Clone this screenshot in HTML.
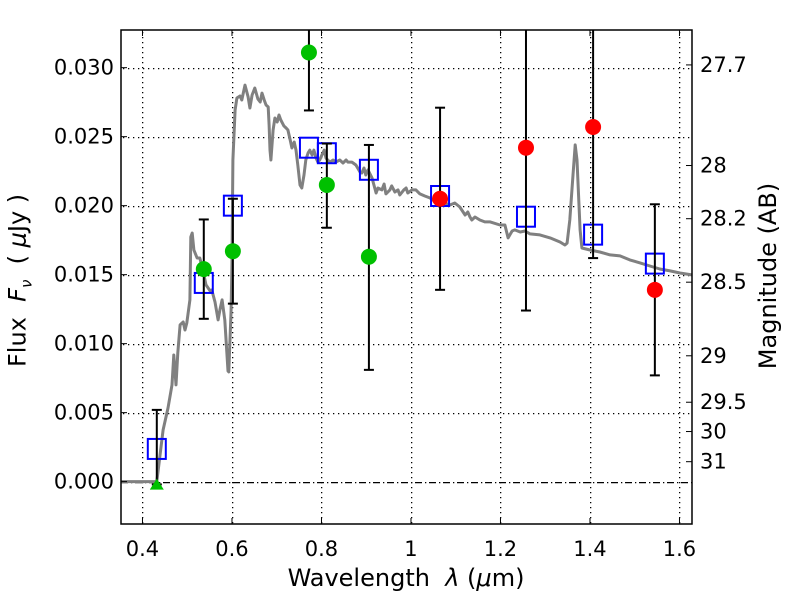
<!DOCTYPE html>
<html><head><meta charset="utf-8"><style>
body{margin:0;background:#fff;}
svg{display:block;font-family:"DejaVu Sans","Liberation Sans",sans-serif;}
</style></head><body>
<svg id="chart" width="800" height="600" viewBox="0 0 800 600" xmlns="http://www.w3.org/2000/svg"></svg>
<script>
const specWl=[0.352,0.417,0.432,0.446,0.457,0.466,0.470,0.475,0.479,0.484,0.491,0.495,0.499,0.506,0.508,0.511,0.515,0.522,0.528,0.535,0.542,0.551,0.555,0.562,0.569,0.573,0.578,0.584,0.591,0.593,0.598,0.600,0.602,0.607,0.611,0.618,0.622,0.629,0.636,0.640,0.645,0.651,0.658,0.663,0.667,0.672,0.676,0.681,0.683,0.685,0.687,0.692,0.696,0.701,0.705,0.709,0.716,0.721,0.725,0.730,0.734,0.739,0.743,0.747,0.752,0.756,0.761,0.765,0.770,0.774,0.779,0.783,0.788,0.792,0.796,0.801,0.806,0.810,0.814,0.819,0.826,0.832,0.841,0.848,0.855,0.859,0.868,0.877,0.886,0.890,0.895,0.899,0.904,0.913,0.922,0.926,0.935,0.940,0.944,0.953,0.957,0.964,0.971,0.975,0.984,0.989,0.993,1.002,1.011,1.020,1.031,1.042,1.049,1.065,1.076,1.087,1.098,1.109,1.121,1.127,1.132,1.136,1.143,1.154,1.165,1.177,1.199,1.210,1.217,1.226,1.232,1.244,1.255,1.266,1.288,1.311,1.333,1.344,1.349,1.355,1.362,1.367,1.371,1.378,1.382,1.400,1.422,1.445,1.467,1.489,1.512,1.534,1.556,1.579,1.601,1.628];
const specFlux=[0,0,0,0.00375,0.00534,0.00701,0.00918,0.00701,0.00933,0.01136,0.01157,0.01099,0.01150,0.01317,0.01773,0.01802,0.01679,0.01621,0.01621,0.01534,0.01426,0.01382,0.01389,0.01302,0.01172,0.01244,0.01317,0.01172,0.00802,0.00795,0.01244,0.01607,0.02331,0.02693,0.02780,0.02795,0.02766,0.02874,0.02788,0.02708,0.02802,0.02853,0.02773,0.02751,0.02816,0.02766,0.02730,0.02715,0.02585,0.02403,0.02331,0.02548,0.02635,0.02606,0.02657,0.02621,0.02578,0.02563,0.02548,0.02476,0.02418,0.02461,0.02403,0.02295,0.02150,0.02128,0.02222,0.02331,0.02382,0.02403,0.02367,0.02403,0.02345,0.02316,0.02331,0.02367,0.02403,0.02345,0.02331,0.02316,0.02331,0.02316,0.02331,0.02309,0.02331,0.02316,0.02316,0.02295,0.02244,0.02237,0.02273,0.02222,0.02259,0.02201,0.02092,0.02128,0.02114,0.02157,0.02085,0.02114,0.02143,0.02099,0.02114,0.02077,0.02114,0.02128,0.02092,0.02114,0.02114,0.02085,0.02070,0.02056,0.02041,0.02056,0.02019,0.02005,0.02019,0.01990,0.01932,0.01954,0.01918,0.01896,0.01918,0.01896,0.01882,0.01882,0.01860,0.01860,0.01766,0.01816,0.01824,0.01809,0.01816,0.01795,0.01788,0.01766,0.01737,0.01715,0.01729,0.01896,0.02222,0.02440,0.02331,0.01824,0.01693,0.01679,0.01664,0.01643,0.01636,0.01607,0.01585,0.01563,0.01541,0.01527,0.01512,0.01498];
const modelWl=[0.432,0.537,0.602,0.772,0.812,0.906,1.065,1.257,1.407,1.545];
const modelFlux=[0.00237,0.0144,0.0200,0.0242,0.0238,0.0226,0.0207,0.0192,0.0179,0.0158];
const obsWl=[0.537,0.602,0.772,0.812,0.906,1.065,1.257,1.407,1.545];
const obsFlux=[0.0154,0.0167,0.0311,0.0215,0.0163,0.0205,0.0242,0.0257,0.0139];
const obsColor=['green','green','green','green','green','red','red','red','red'];
const errWl=[0.432,0.537,0.602,0.772,0.812,0.906,1.065,1.257,1.407,1.545];
const errLo=[-0.0002,0.0118,0.0129,0.0269,0.0184,0.0081,0.0139,0.0124,0.0162,0.0077];
const errHi=[0.0052,0.0190,0.0205,0.040,0.0245,0.0244,0.0271,0.040,0.040,0.0201];
const limitWl=[0.432];
const limitFlux=[0];
const xTicks=[0.4,0.6,0.8,1.0,1.2,1.4,1.6];
const xTickLabels=['0.4','0.6','0.8','1','1.2','1.4','1.6'];
const yTicks=[0,0.005,0.010,0.015,0.020,0.025,0.030];
const yTickLabels=['0.000','0.005','0.010','0.015','0.020','0.025','0.030'];
const magTicks=[27.7,28,28.2,28.5,29,29.5,30,31];
const magLabels=['27.7','28','28.2','28.5','29','29.5','30','31'];

const L=121,R=692,T=30,B=524,X0=0.352,X1=1.628,Y0=-0.00307,Y1=0.03273;
const sx=v=>L+(v-X0)/(X1-X0)*(R-L);
const sy=v=>B-(v-Y0)/(Y1-Y0)*(B-T);
const svg=document.getElementById('chart');
const NS='http://www.w3.org/2000/svg';
function mk(tag,attrs,parent){const e=document.createElementNS(NS,tag);for(const k in attrs)e.setAttribute(k,attrs[k]);(parent||svg).appendChild(e);return e;}
const defs=mk('defs',{});
const cp=mk('clipPath',{id:'clip'},defs);mk('rect',{x:L,y:T,width:R-L,height:B-T},cp);
const plot=mk('g',{'clip-path':'url(#clip)'});



xTicks.forEach((t)=>{const x=Math.round(sx(t));let dd='';for(let y=T+2;y<B;y+=5)dd+=`M${x},${y}h1.3v1.3h-1.3z`;
const l=mk('path',{d:dd,fill:'#000'},plot);

});
yTicks.forEach((t)=>{const y=Math.round(sy(t));let dd='';
if(t===0){for(let x=L;x<R;x+=14)dd+=`M${x},${y}h7v1.3h-7zM${x+10},${y}h1.3v1.3h-1.3z`;}
else{for(let x=L+2;x<R;x+=5)dd+=`M${x},${y}h1.3v1.3h-1.3z`;}
const l=mk('path',{d:dd,fill:'#000'},plot);

});

let d='';specWl.forEach((w,i)=>{d+=(i?'L':'M')+sx(w).toFixed(1)+','+sy(specFlux[i]).toFixed(1);});
const sp=mk('path',{d:d,fill:'none',stroke:'#808080','stroke-width':3,'stroke-linejoin':'round'},plot);



modelWl.forEach((w,i)=>{const r=mk('rect',{x:sx(w)-9,y:sy(modelFlux[i])-10,width:18,height:20,fill:'none',stroke:'#0000ff','stroke-width':2},plot);

});

errWl.forEach((w,i)=>{const g=mk('g',{stroke:'#000','stroke-width':2},plot);


const x=sx(w);mk('line',{x1:x,x2:x,y1:sy(errLo[i]),y2:sy(errHi[i])},g);
mk('line',{x1:x-5,x2:x+5,y1:sy(errLo[i]),y2:sy(errLo[i])},g);
mk('line',{x1:x-5,x2:x+5,y1:sy(errHi[i]),y2:sy(errHi[i])},g);});

limitWl.forEach((w,i)=>{const x=sx(w),y=sy(limitFlux[i]);const p=mk('polygon',{points:`${x-7},${y+8} ${x+7},${y+8} ${x},${y-3}`,fill:'#00c000'},plot);

});

obsWl.forEach((w,i)=>{const c=mk('circle',{cx:sx(w),cy:sy(obsFlux[i]),r:8,fill:obsColor[i]==='green'?'#00c000':'#ff0000'},plot);

});

const fr=mk('rect',{x:L,y:T,width:R-L,height:B-T,fill:'none',stroke:'#000','stroke-width':1.5});



xTicks.forEach((t,i)=>{const x=sx(t);mk('line',{x1:x,x2:x,y1:B,y2:B-6,stroke:'#000'});mk('line',{x1:x,x2:x,y1:T,y2:T+6,stroke:'#000'});
const tx=mk('text',{x:x,y:556,'font-size':21,'text-anchor':'middle'});tx.textContent=xTickLabels[i];

});
yTicks.forEach((t,i)=>{const y=sy(t);mk('line',{x1:L,x2:L+6,y1:y,y2:y,stroke:'#000'});
const tx=mk('text',{x:114,y:y+7,'font-size':21,'text-anchor':'end'});tx.textContent=yTickLabels[i];

});
magTicks.forEach((m,i)=>{const y=sy(Math.pow(10,(23.9-m)/2.5));mk('line',{x1:R,x2:R-6,y1:y,y2:y,stroke:'#000'});
const tx=mk('text',{x:700,y:y+7,'font-size':21});tx.textContent=magLabels[i];

});
</script>
<div style="position:absolute;left:0;top:0;width:800px;height:600px;pointer-events:none;font-family:'DejaVu Sans','Liberation Sans',sans-serif;">
<div style="position:absolute;left:206px;top:564px;width:400px;text-align:center;font-size:24px;line-height:28px;">Wavelength&nbsp; <i>λ</i> (<i>μ</i>m)</div>
<div style="position:absolute;left:-178px;top:262px;width:400px;text-align:center;font-size:24px;line-height:28px;transform:rotate(-90deg);">Flux&nbsp; <i>F<sub style="font-size:15px">ν</sub></i> &nbsp;( <i>μ</i>Jy )</div>
<div style="position:absolute;left:568px;top:262px;width:400px;text-align:center;font-size:24px;line-height:28px;transform:rotate(-90deg);">Magnitude (AB)</div>
</div>
</body></html>
